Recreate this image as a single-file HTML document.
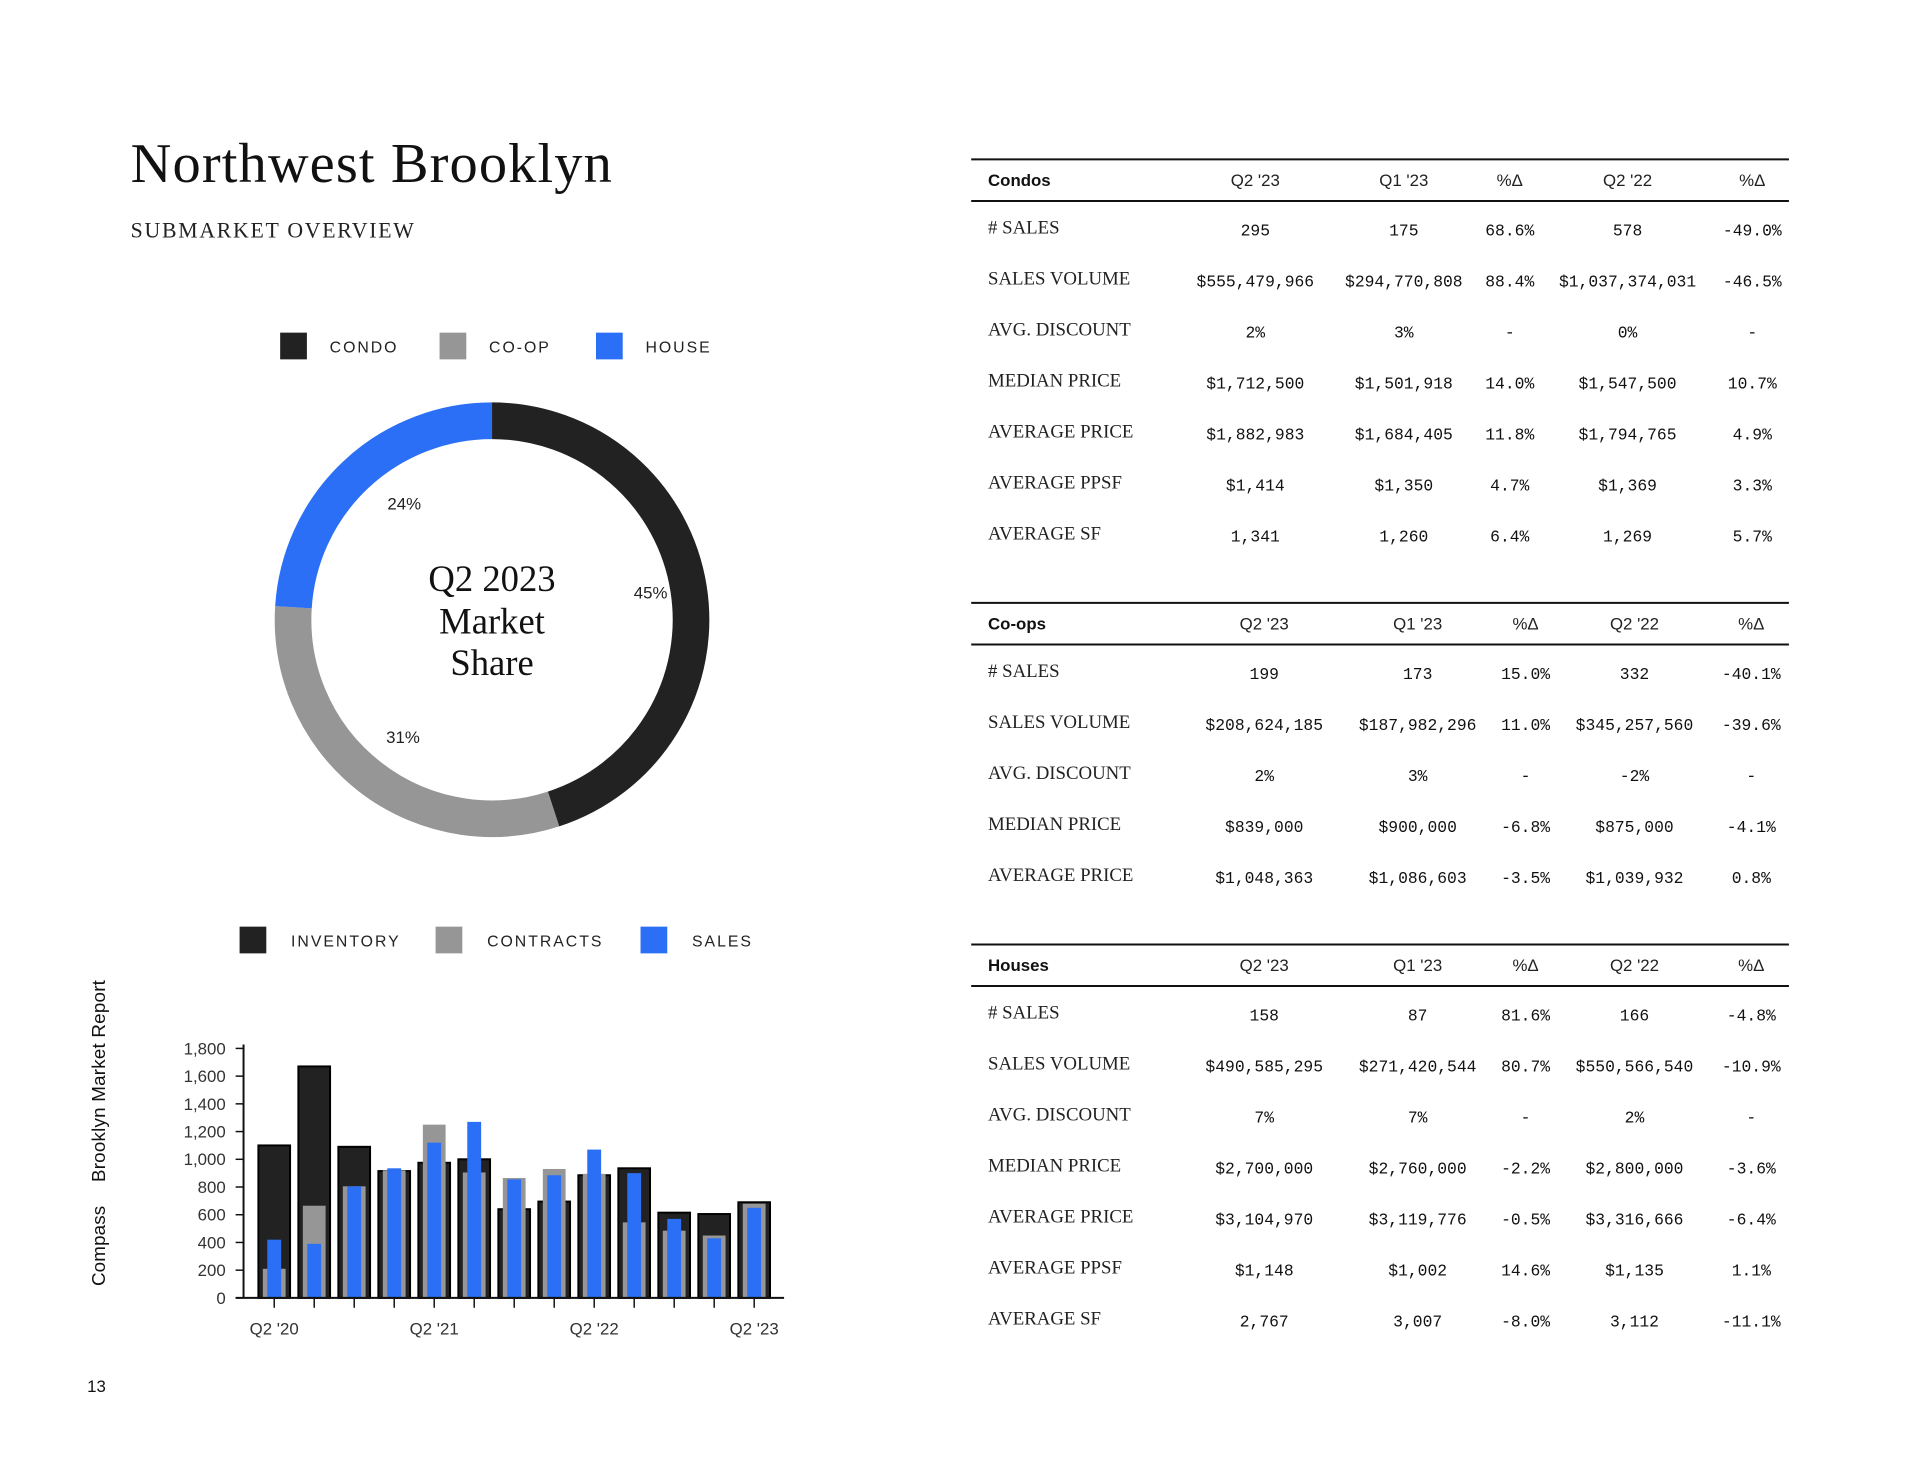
<!DOCTYPE html>
<html><head><meta charset="utf-8"><style>
html,body{margin:0;padding:0;background:#fff;}
svg{display:block;}
.serif{font-family:"Liberation Serif",serif;}
.sans{font-family:"Liberation Sans",sans-serif;}
.mono{font-family:"Liberation Mono",monospace;}
</style></head><body>
<svg id="page" width="1920" height="1484" viewBox="0 0 1920 1484" xmlns="http://www.w3.org/2000/svg">
<g transform="scale(0.99)">
<text class="serif" x="132" y="184" font-size="57" fill="#111" textLength="486">Northwest Brooklyn</text>
<text class="serif" x="132" y="240" font-size="22" fill="#222" textLength="286">SUBMARKET OVERVIEW</text>
<g id="donut-legend"></g>
<g id="donut"></g>
<g class="serif" font-size="37" fill="#111" text-anchor="middle">
<text x="497" y="597">Q2 2023</text><text x="497" y="640">Market</text><text x="497" y="682">Share</text>
</g>
<g id="bar-legend"></g>
<g id="bars"></g>
<text class="sans" font-size="19" fill="#111" textLength="81" transform="translate(106,1299) rotate(-90)">Compass</text>
<text class="sans" font-size="19" fill="#111" textLength="204" transform="translate(106,1194) rotate(-90)">Brooklyn Market Report</text>
<text class="sans" x="88" y="1406" font-size="17" fill="#111">13</text>
<g id="tables"></g>
</g>
</svg>
<script>
const NS="http://www.w3.org/2000/svg";
function mk(tag,attrs,parent,txt){const e=document.createElementNS(NS,tag);for(const k in attrs)e.setAttribute(k,attrs[k]);if(txt!==undefined)e.textContent=txt;parent.appendChild(e);return e;}

// ---- Donut data ----
const shareLabels=["CONDO","CO-OP","HOUSE"];
const shareValues=[45,31,24];
const shareColors=["#222222","#969696","#2a6ff5"];
const donutG=document.getElementById('donut');
const cx=497,cy=626,rMid=201,thick=37;
const labelNudge=[[12,-4],[2,0],[14,-8]];
let acc=0;
const total=shareValues.reduce((a,b)=>a+b,0);
shareValues.forEach((v,i)=>{
  const a0=acc/total*2*Math.PI, a1=(acc+v)/total*2*Math.PI; acc+=v;
  const p=t=>[cx+rMid*Math.sin(t),cy-rMid*Math.cos(t)];
  const s=p(a0),e=p(a1);
  const path=mk('path',{d:`M${s[0]},${s[1]} A${rMid},${rMid} 0 ${a1-a0>Math.PI?1:0} 1 ${e[0]},${e[1]}`,fill:'none',stroke:shareColors[i],'stroke-width':thick},donutG);
  
  
  const am=(a0+a1)/2, rl=150;
  const lab=mk('text',{x:cx+rl*Math.sin(am)+labelNudge[i][0],y:cy-rl*Math.cos(am)+6+labelNudge[i][1],'text-anchor':'middle','font-size':17,fill:'#222',class:'sans'},donutG,v+'%');
  
  
});
const dl=document.getElementById('donut-legend');
const dlX=[283,444,602];
shareLabels.forEach((l,i)=>{
  const r=mk('rect',{x:dlX[i],y:336,width:27,height:27,fill:shareColors[i]},dl);
  
  
  const t=mk('text',{x:dlX[i]+50,y:356,'font-size':16,'letter-spacing':2,fill:'#222',class:'sans'},dl,l);
  
  
});

// ---- Bar chart data ----
const quarters=["Q2 '20","Q3 '20","Q4 '20","Q1 '21","Q2 '21","Q3 '21","Q4 '21","Q1 '22","Q2 '22","Q3 '22","Q4 '22","Q1 '23","Q2 '23"];
const inventory=[1100,1670,1090,915,975,1000,640,695,885,935,615,605,690];
const contracts=[210,665,805,920,1250,905,865,930,895,545,485,450,680];
const sales=[420,390,805,935,1120,1270,855,885,1070,900,570,430,650];
const yTicks=[0,200,400,600,800,1000,1200,1400,1600,1800];
const xLabelIdx=[0,4,8,12];
const seriesNames=["INVENTORY","CONTRACTS","SALES"];
const seriesColors=["#222222","#969696","#2a6ff5"];

const bg=document.getElementById('bars');
const x0=246,y0=1311,yTop=1059,firstX=277,stepX=40.4,yMax=1800;
const xS=i=>firstX+i*stepX;
const yS=v=>y0-(v/yMax)*(y0-yTop);
const widths=[32,23,14];
[inventory,contracts,sales].forEach((arr,si)=>{
  arr.forEach((v,i)=>{
    const w=widths[si];
    const r=mk('rect',{x:xS(i)-w/2,y:yS(v),width:w,height:y0-yS(v),fill:seriesColors[si]},bg);
    if(si===0){r.setAttribute('stroke','#000');r.setAttribute('stroke-width','2');}
    
    
  });
});
const yAx=mk('line',{x1:x0,y1:y0,x2:x0,y2:yTop-4,stroke:'#111','stroke-width':2},bg);


const xAx=mk('line',{x1:x0-8,y1:y0,x2:792,y2:y0,stroke:'#111','stroke-width':2},bg);


yTicks.forEach(v=>{
  mk('line',{x1:x0-8,y1:yS(v),x2:x0,y2:yS(v),stroke:'#111','stroke-width':1.5},bg);
  const t=mk('text',{x:x0-18,y:yS(v)+6,'text-anchor':'end','font-size':17,fill:'#333',class:'sans'},bg,v.toLocaleString('en-US'));
  
  
});
quarters.forEach((q,i)=>{
  mk('line',{x1:xS(i),y1:y0,x2:xS(i),y2:y0+10,stroke:'#111','stroke-width':1.5},bg);
});
xLabelIdx.forEach(i=>{
  const t=mk('text',{x:xS(i),y:1348,'text-anchor':'middle','font-size':17,fill:'#333',class:'sans'},bg,quarters[i]);
  
  
});
const bl=document.getElementById('bar-legend');
const blX=[242,440,647];
seriesNames.forEach((l,i)=>{
  const r=mk('rect',{x:blX[i],y:936,width:27,height:27,fill:seriesColors[i]},bl);
  
  
  const t=mk('text',{x:blX[i]+52,y:956,'font-size':16,'letter-spacing':2,fill:'#222',class:'sans'},bl,l);
  
  
});

// ---- Tables ----
const headCols=["Q2 '23","Q1 '23","%Δ","Q2 '22","%Δ"];
const condoRows=[
 ["# SALES","295","175","68.6%","578","-49.0%"],
 ["SALES VOLUME","$555,479,966","$294,770,808","88.4%","$1,037,374,031","-46.5%"],
 ["AVG. DISCOUNT","2%","3%","-","0%","-"],
 ["MEDIAN PRICE","$1,712,500","$1,501,918","14.0%","$1,547,500","10.7%"],
 ["AVERAGE PRICE","$1,882,983","$1,684,405","11.8%","$1,794,765","4.9%"],
 ["AVERAGE PPSF","$1,414","$1,350","4.7%","$1,369","3.3%"],
 ["AVERAGE SF","1,341","1,260","6.4%","1,269","5.7%"]];
const coopRows=[
 ["# SALES","199","173","15.0%","332","-40.1%"],
 ["SALES VOLUME","$208,624,185","$187,982,296","11.0%","$345,257,560","-39.6%"],
 ["AVG. DISCOUNT","2%","3%","-","-2%","-"],
 ["MEDIAN PRICE","$839,000","$900,000","-6.8%","$875,000","-4.1%"],
 ["AVERAGE PRICE","$1,048,363","$1,086,603","-3.5%","$1,039,932","0.8%"]];
const houseRows=[
 ["# SALES","158","87","81.6%","166","-4.8%"],
 ["SALES VOLUME","$490,585,295","$271,420,544","80.7%","$550,566,540","-10.9%"],
 ["AVG. DISCOUNT","7%","7%","-","2%","-"],
 ["MEDIAN PRICE","$2,700,000","$2,760,000","-2.2%","$2,800,000","-3.6%"],
 ["AVERAGE PRICE","$3,104,970","$3,119,776","-0.5%","$3,316,666","-6.4%"],
 ["AVERAGE PPSF","$1,148","$1,002","14.6%","$1,135","1.1%"],
 ["AVERAGE SF","2,767","3,007","-8.0%","3,112","-11.1%"]];
const tg=document.getElementById('tables');
function table(title,rows,top,cols){
  const g=mk('g',{},tg);
  
  
  mk('line',{x1:981,y1:top,x2:1807,y2:top,stroke:'#111','stroke-width':2},g);
  mk('line',{x1:981,y1:top+42,x2:1807,y2:top+42,stroke:'#111','stroke-width':2},g);
  const h=mk('text',{x:998,y:top+27,'font-size':17,'font-weight':'bold',fill:'#111',class:'sans'},g,title);
  
  
  headCols.forEach((c,i)=>{
    const t=mk('text',{x:cols[i],y:top+27,'font-size':17,'text-anchor':'middle',fill:'#222',class:'sans'},g,c);
    
    
  });
  rows.forEach((r,ri)=>{
    const y=top+75+ri*51.5;
    const l=mk('text',{x:998,y:y,'font-size':19,fill:'#222',class:'serif'},g,r[0]);
    
    
    for(let c=1;c<6;c++){
      const t=mk('text',{x:cols[c-1],y:y+2,'font-size':16.5,'text-anchor':'middle',fill:'#111',class:'mono'},g,r[c]);
      
      
    }
  });
}
table("Condos",condoRows,161,[1268,1418,1525,1644,1770]);
table("Co-ops",coopRows,609,[1277,1432,1541,1651,1769]);
table("Houses",houseRows,954,[1277,1432,1541,1651,1769]);
</script>
</body></html>
